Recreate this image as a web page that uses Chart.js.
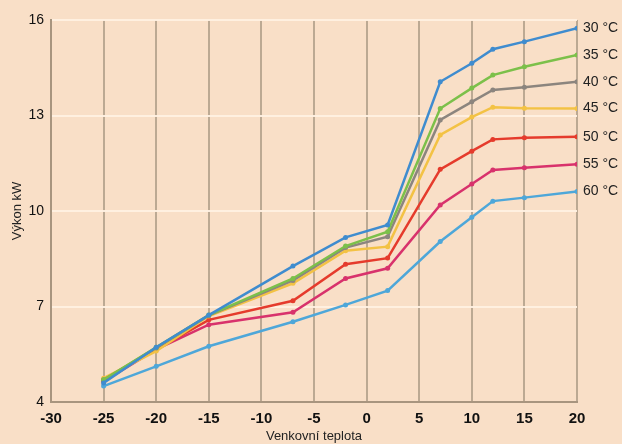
<!DOCTYPE html>
<html>
<head>
<meta charset="utf-8">
<script src="https://cdn.jsdelivr.net/npm/chart.js@4.4.1/dist/chart.umd.min.js"></script>
<style>
  html, body { margin: 0; padding: 0; background: #f9dfc7; }
  #wrap { width: 622px; height: 444px; }
</style>
</head>
<body>
<div id="wrap"><canvas id="chart"></canvas></div>
<script>
const temps   = [-25, -20, -15, -7, -2, 2, 7, 10, 12, 15, 20];
const names   = ['30 °C', '35 °C', '40 °C', '45 °C', '50 °C', '55 °C', '60 °C'];
const s30 = [4.6, 5.72, 6.73, 8.27, 9.17, 9.56, 14.06, 14.64, 15.08, 15.32, 15.74];
const s35 = [4.7, 5.72, 6.73, 7.88, 8.9, 9.35, 13.22, 13.86, 14.27, 14.53, 14.9];
const s40 = [4.7, 5.7, 6.72, 7.82, 8.85, 9.19, 12.86, 13.43, 13.8, 13.89, 14.06];
const s45 = [4.75, 5.6, 6.7, 7.73, 8.75, 8.88, 12.39, 12.95, 13.26, 13.23, 13.22];
const s50 = [4.7, 5.65, 6.58, 7.18, 8.33, 8.52, 11.31, 11.88, 12.25, 12.3, 12.33];
const s55 = [4.65, 5.65, 6.43, 6.82, 7.88, 8.2, 10.19, 10.85, 11.29, 11.36, 11.47];
const s60 = [4.5, 5.12, 5.75, 6.52, 7.05, 7.5, 9.04, 9.8, 10.31, 10.42, 10.61];
const colors = ['#3f8ccf', '#7cc04a', '#8c857e', '#f3c244', '#e53b2c', '#d8326c', '#4ea7d9'];
const xTicks = [-30, -25, -20, -15, -10, -5, 0, 5, 10, 15, 20];
const yTicks = [4, 7, 10, 13, 16];

const series = [s30, s35, s40, s45, s50, s55, s60];
const font = "'Liberation Sans Narrow', 'Liberation Sans', Arial, sans-serif";

// popisky řad na pravém konci čar
const endLabels = {
    id: 'endLabels',
    afterDatasetsDraw(chart) {
        const ctx = chart.ctx;
        ctx.save();
        ctx.font = '14px ' + font;
        ctx.fillStyle = '#222';
        ctx.textBaseline = 'middle';
        chart.data.datasets.forEach((ds, i) => {
            const meta = chart.getDatasetMeta(i);
            const pt = meta.data[meta.data.length - 1];
            ctx.fillText(ds.label, pt.x + 6, pt.y);
        });
        ctx.restore();
    }
};

new Chart(document.getElementById('chart'), {
    type: 'line',
    data: {
        datasets: series.map((s, i) => ({
            label: names[i],
            data: s.map((v, j) => ({ x: temps[j], y: v })),
            borderColor: colors[i],
            backgroundColor: colors[i],
            borderWidth: 2.5,
            pointRadius: 2.5,
            pointBorderWidth: 0,
            tension: 0
        }))
    },
    options: {
        responsive: true,
        maintainAspectRatio: false,
        animation: false,
        layout: { padding: { top: 20, right: 45, left: 0, bottom: 0 } },
        plugins: {
            legend: { display: false },
            tooltip: { enabled: false }
        },
        scales: {
            x: {
                type: 'linear',
                min: -30,
                max: 20,
                afterBuildTicks: axis => { axis.ticks = xTicks.map(v => ({ value: v })); },
                afterFit: axis => { axis.height = 42; },
                grid: { color: '#bca993', lineWidth: 2, drawTicks: false },
                border: { color: '#a8957f', width: 2 },
                ticks: { color: '#111', padding: 8, font: { family: font, size: 15, weight: 'bold' } },
                title: {
                    display: true,
                    text: 'Venkovní teplota',
                    color: '#222',
                    padding: { top: 0, bottom: 0 },
                    font: { family: font, size: 13 }
                }
            },
            y: {
                min: 4,
                max: 16,
                afterBuildTicks: axis => { axis.ticks = yTicks.map(v => ({ value: v })); },
                afterFit: axis => { axis.width = 51; },
                grid: { color: 'rgba(255,240,226,0.95)', lineWidth: 2, drawTicks: false },
                border: { color: '#a8957f', width: 2 },
                ticks: { color: '#111', padding: 7, font: { family: font, size: 14 } },
                title: {
                    display: true,
                    text: 'Výkon kW',
                    color: '#222',
                    padding: { top: 10, bottom: 0 },
                    font: { family: font, size: 13 }
                }
            }
        }
    },
    plugins: [endLabels]
});
</script>
</body>
</html>
